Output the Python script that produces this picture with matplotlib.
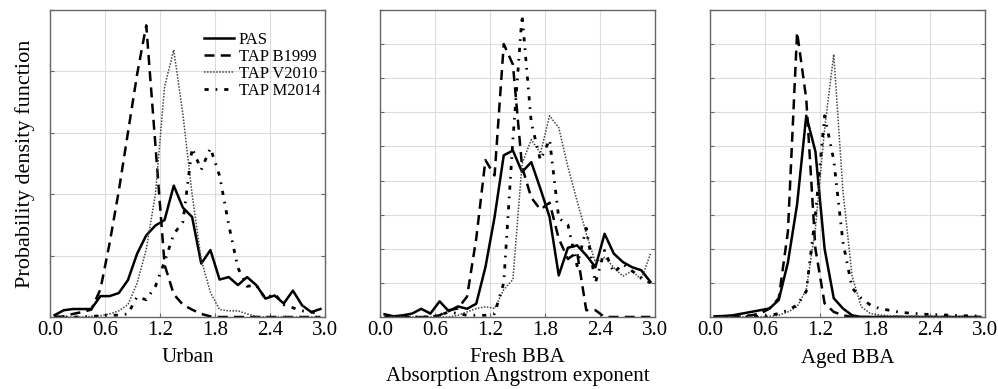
import matplotlib
matplotlib.use("Agg")
import matplotlib.pyplot as plt

plt.rcParams["font.family"] = ["Liberation Serif", "DejaVu Serif"]

# bin centres of the AAE histograms
aae = [0.05, 0.15, 0.25, 0.35, 0.45, 0.55, 0.65, 0.75, 0.85, 0.95,
       1.05, 1.15, 1.25, 1.35, 1.45, 1.55, 1.65, 1.75, 1.85, 1.95,
       2.05, 2.15, 2.25, 2.35, 2.45, 2.55, 2.65, 2.75, 2.85, 2.95]

panel_names = ["Urban", "Fresh BBA", "Aged BBA"]
series_names = ["PAS", "TAP B1999", "TAP V2010", "TAP M2014"]
xticks = [0.0, 0.6, 1.2, 1.8, 2.4, 3.0]
xtick_labels = ["0.0", "0.6", "1.2", "1.8", "2.4", "3.0"]

# Urban
pas_urban = [0.03, 0.11, 0.13, 0.13, 0.13, 0.34, 0.34, 0.39, 0.60, 1.03,
             1.33, 1.49, 1.58, 2.14, 1.78, 1.63, 0.87, 1.09, 0.61, 0.65,
             0.52, 0.65, 0.52, 0.30, 0.35, 0.22, 0.43, 0.19, 0.08, 0.13]
b1999_urban = [0.0, 0.01, 0.05, 0.08, 0.12, 0.45, 1.2, 2.05, 3.0, 3.95,
               4.75, 2.8, 0.85, 0.37, 0.2, 0.12, 0.05, 0.01, 0.0, 0.0,
               0.0, 0.0, 0.0, 0.0, 0.0, 0.0, 0.0, 0.0, 0.0, 0.0]
v2010_urban = [0.0, 0.0, 0.0, 0.0, 0.01, 0.02, 0.05, 0.10, 0.2, 0.55,
               1.1, 2.0, 3.75, 4.35, 3.3, 2.0, 0.93, 0.4, 0.12, 0.1,
               0.1, 0.05, 0.01, 0.0, 0.0, 0.0, 0.0, 0.0, 0.0, 0.0]
m2014_urban = [0.0, 0.0, 0.0, 0.0, 0.01, 0.02, 0.03, 0.03, 0.05, 0.33,
               0.28, 0.5, 0.9, 1.35, 1.55, 2.75, 2.4, 2.75, 2.3, 1.5,
               0.8, 0.5, 0.52, 0.3, 0.38, 0.2, 0.15, 0.1, 0.08, 0.05]

# Fresh BBA
pas_fresh = [0.08, 0.02, 0.05, 0.1, 0.24, 0.1, 0.46, 0.17, 0.31, 0.24,
             0.39, 1.46, 2.93, 4.74, 4.88, 4.25, 4.54, 3.76, 2.93, 1.22,
             2.03, 2.10, 1.81, 1.46, 2.44, 1.86, 1.61, 1.46, 1.37, 1.03]
b1999_fresh = [0.0, 0.0, 0.0, 0.0, 0.0, 0.0, 0.05, 0.2, 0.25, 0.6,
               2.3, 4.6, 4.15, 8.0, 7.4, 4.4, 3.5, 3.15, 3.35, 2.3,
               1.7, 1.9, 0.2, 0.2, 0.0, 0.0, 0.0, 0.0, 0.0, 0.0]
v2010_fresh = [0.0, 0.0, 0.0, 0.0, 0.0, 0.0, 0.0, 0.0, 0.05, 0.15,
               0.25, 0.3, 0.25, 0.8, 1.1, 4.5, 5.2, 4.8, 5.9, 5.55,
               4.4, 3.4, 2.45, 1.6, 1.75, 1.45, 1.2, 1.35, 1.1, 1.85]
m2014_fresh = [0.0, 0.0, 0.0, 0.0, 0.0, 0.0, 0.05, 0.15, 0.1, 0.05,
               0.05, 0.05, 0.1, 1.0, 5.2, 8.85, 5.7, 4.6, 5.2, 2.9,
               2.7, 1.5, 2.6, 1.0, 1.95, 1.3, 1.55, 1.35, 1.15, 1.0]

# Aged BBA
pas_aged = [0.02, 0.03, 0.05, 0.1, 0.15, 0.2, 0.25, 0.5, 1.6, 3.3,
            5.9, 4.85, 2.0, 0.55, 0.25, 0.05, 0.0, 0.0, 0.0, 0.0,
            0.0, 0.0, 0.0, 0.0, 0.0, 0.0, 0.0, 0.0, 0.0, 0.0]
b1999_aged = [0.0, 0.0, 0.0, 0.02, 0.05, 0.1, 0.25, 0.55, 2.5, 8.35,
              6.4, 2.0, 0.4, 0.15, 0.05, 0.0, 0.0, 0.0, 0.0, 0.0,
              0.0, 0.0, 0.0, 0.0, 0.0, 0.0, 0.0, 0.0, 0.0, 0.0]
v2010_aged = [0.0, 0.0, 0.0, 0.0, 0.0, 0.0, 0.02, 0.05, 0.15, 0.3,
              0.8, 2.6, 5.5, 7.7, 3.7, 1.2, 0.3, 0.1, 0.06, 0.04,
              0.03, 0.02, 0.02, 0.01, 0.01, 0.0, 0.0, 0.0, 0.0, 0.0]
m2014_aged = [0.0, 0.0, 0.0, 0.0, 0.01, 0.02, 0.05, 0.1, 0.2, 0.35,
              0.75, 3.0, 5.9, 4.6, 2.2, 0.85, 0.55, 0.35, 0.25, 0.2,
              0.15, 0.12, 0.1, 0.08, 0.07, 0.06, 0.05, 0.04, 0.03, 0.03]

panels = [
    [pas_urban, b1999_urban, v2010_urban, m2014_urban],
    [pas_fresh, b1999_fresh, v2010_fresh, m2014_fresh],
    [pas_aged, b1999_aged, v2010_aged, m2014_aged],
]
ylims = [5, 9, 9]

styles = [
    dict(color="black", linestyle="-", linewidth=1.8),
    dict(color="black", linestyle=(0, (4, 2.5)), linewidth=1.8),
    dict(color="#444444", linestyle=(0, (1, 1)), linewidth=1.1),
    dict(color="black", linestyle=(0, (1.5, 2.5, 0.6, 2.5)), linewidth=2.0),
]

fig = plt.figure(figsize=(9.98, 3.89), dpi=100)
lefts = [50, 380, 710]
axes = []
for i in range(3):
    ax = fig.add_axes([lefts[i] / 998, 72 / 389, 275 / 998, 307 / 389])
    axes.append(ax)
    for vals, name, st in zip(panels[i], series_names, styles):
        ax.plot(aae, vals, label=name, **st)
    ax.set_xlim(0, 3)
    ax.set_ylim(0, ylims[i])
    ax.set_xticks(xticks)
    ax.set_xticklabels(xtick_labels, fontsize=15)
    ax.set_yticks(range(ylims[i] + 1))
    ax.set_yticklabels([])
    ax.grid(True, color="#dcdcdc", linewidth=0.8)
    ax.set_axisbelow(True)
    ax.tick_params(direction="in", length=3, width=0.8, color="#666666",
                   right=True, top=False, pad=3)
    for sp in ax.spines.values():
        sp.set_color("#666666")
        sp.set_linewidth(1.0)

axes[0].set_xlabel("Urban", fontsize=15, labelpad=6)
axes[1].set_xlabel("Fresh BBA\nAbsorption Angstrom exponent", fontsize=15,
                   labelpad=6, linespacing=0.95)
axes[2].set_xlabel("Aged BBA", fontsize=15, labelpad=6)
axes[0].set_ylabel("Probability density function", fontsize=16, labelpad=8)

axes[0].legend(loc="upper right", bbox_to_anchor=(1.02, 0.96), frameon=False,
               fontsize=12, handlelength=1.8, handletextpad=0.3,
               labelspacing=0.05, borderaxespad=0.2)

fig.savefig("out.png", dpi=100)
